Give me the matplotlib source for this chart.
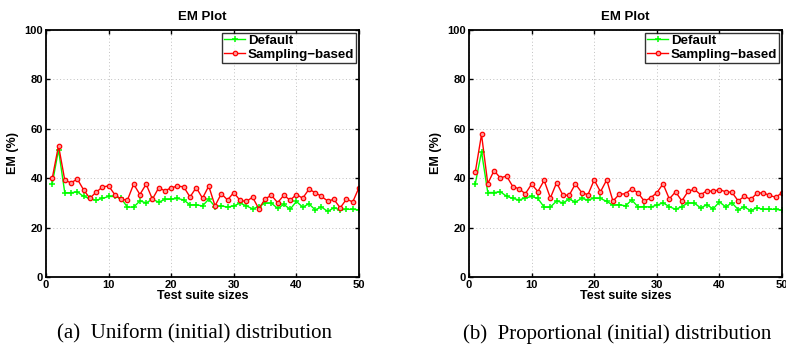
import numpy as np
import matplotlib
matplotlib.use('Agg')
import matplotlib.pyplot as plt

# test suite sizes 1..50
sizes = list(range(1, 51))

# (a) uniform initial distribution
uni_default = [37.8, 51.5, 34.1, 34.1, 34.5, 32.6, 31.8, 31.1, 31.8, 32.6,
               32.6, 31.8, 28.3, 28.3, 30.8, 30.0, 31.5, 30.3, 31.4, 31.5,
               31.8, 31.2, 29.2, 29.2, 28.8, 31.5, 28.5, 28.8, 28.3, 28.8,
               29.9, 28.8, 27.6, 28.5, 29.9, 29.9, 27.8, 29.4, 27.4, 30.6,
               28.3, 29.6, 27.2, 28.3, 26.6, 28.0, 27.2, 27.4, 27.4, 27.2]
uni_sampling = [40.0, 53.2, 39.2, 38.1, 39.7, 35.3, 31.9, 34.3, 36.4, 36.9,
                33.3, 31.5, 31.1, 37.6, 33.4, 37.6, 31.5, 36.1, 34.9, 36.1,
                36.8, 36.5, 32.4, 36.2, 31.9, 36.8, 28.8, 33.7, 31.2, 34.2,
                31.0, 30.6, 32.3, 27.6, 31.6, 33.1, 30.1, 33.1, 31.1, 33.4,
                31.9, 35.5, 34.2, 32.6, 30.8, 31.4, 28.0, 31.5, 30.4, 36.2]

# (b) proportional initial distribution
prop_default = [37.7, 50.7, 34.2, 34.2, 34.5, 32.7, 31.8, 31.2, 32.0, 32.6,
                31.8, 28.3, 28.3, 30.8, 30.0, 31.5, 30.4, 31.8, 31.2, 31.9,
                31.8, 30.6, 29.1, 29.3, 28.8, 31.2, 28.4, 28.5, 28.3, 29.1,
                30.0, 28.5, 27.4, 28.5, 30.0, 29.9, 28.0, 29.2, 27.6, 30.4,
                28.4, 30.0, 27.3, 28.3, 26.9, 28.0, 27.4, 27.4, 27.4, 27.0]
prop_sampling = [42.4, 57.7, 37.8, 43.1, 40.1, 40.9, 36.6, 35.7, 33.7, 37.6,
                 34.6, 39.1, 32.0, 38.2, 33.1, 33.1, 37.7, 34.2, 33.3, 39.3,
                 34.5, 39.3, 30.7, 33.5, 33.7, 35.7, 34.1, 30.7, 32.0, 34.1,
                 37.7, 31.6, 34.5, 30.8, 34.7, 35.5, 33.3, 34.9, 34.7, 35.4,
                 34.5, 34.3, 30.8, 32.7, 31.4, 33.9, 34.1, 33.0, 32.3, 34.1]

captions = ['(a)  Uniform (initial) distribution',
            '(b)  Proportional (initial) distribution']

plt.rcParams['font.family'] = ['Liberation Sans', 'DejaVu Sans']

fig = plt.figure(figsize=(7.86, 3.45), dpi=100)
W, H = 786.0, 345.0
axes = [fig.add_axes([46 / W, 1 - 277 / H, 313 / W, 247 / H]),
        fig.add_axes([469 / W, 1 - 277 / H, 313 / W, 247 / H])]

panels = [(uni_default, uni_sampling), (prop_default, prop_sampling)]

for ax, (dflt, samp), cap in zip(axes, panels, captions):
    ax.plot(sizes, dflt, '-+', color=(0, 1, 0), lw=1.0, ms=4.2, mew=1.1,
            label='Default')
    ax.plot(sizes, samp, '-o', color=(1, 0, 0), lw=1.0, ms=3.2, mew=0.9,
            mfc=(1, 0.6, 0.6), label='Sampling\u2212based')
    ax.set_xlim(0, 50)
    ax.set_ylim(0, 100)
    ax.set_xticks(np.arange(0, 51, 10))
    ax.set_yticks(np.arange(0, 101, 20))
    ax.grid(True, color='#c0c0c0', linestyle=(0, (1, 2.5)), linewidth=0.7)
    ax.tick_params(direction='in', length=3, width=1, top=True, right=True,
                   labelsize=8, pad=2)
    for lab in ax.get_xticklabels() + ax.get_yticklabels():
        lab.set_fontweight('bold')
    for sp in ax.spines.values():
        sp.set_linewidth(1.3)
    ax.set_title('EM Plot', fontsize=9.5, fontweight='bold', pad=7)
    ax.set_xlabel('Test suite sizes', fontsize=9, fontweight='bold', labelpad=0)
    ax.set_ylabel('EM (%)', fontsize=9, fontweight='bold', labelpad=4)
    leg = ax.legend(loc='upper right', prop={'weight': 'bold', 'size': 9.6},
                    frameon=True, fancybox=False, borderaxespad=0.2,
                    handlelength=1.6, handletextpad=0.2, borderpad=0.15,
                    labelspacing=0.1)
    leg.get_frame().set_edgecolor('black')
    leg.get_frame().set_linewidth(1.0)
    pos = ax.get_position()
    # caption sits a bit left of the axes centre
    fig.text(pos.x0 + pos.width / 2 - 8 / W, 1 - 334 / H, cap, ha='center',
             va='center', family='Liberation Serif', fontsize=15)

fig.savefig('out.png', dpi=100)
